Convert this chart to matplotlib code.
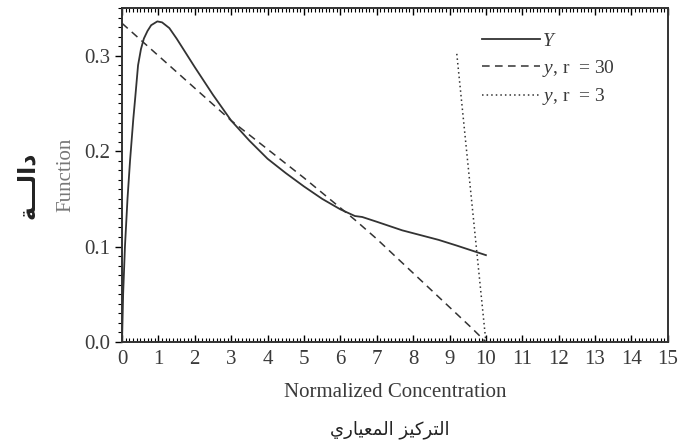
import numpy as np
import matplotlib
matplotlib.use('Agg')
import matplotlib.pyplot as plt
from matplotlib.ticker import MultipleLocator

# Datos
x_Y = [0, 0.03, 0.08, 0.15, 0.22, 0.31, 0.36, 0.44, 0.52, 0.6, 0.7, 0.8, 0.97,
       1.1, 1.3, 1.5, 1.75, 2.0, 2.5, 3.0, 3.5, 4.0, 4.5, 5.0, 5.5, 6.0, 6.4,
       6.6, 7.0, 7.7, 8.2, 8.7, 9.2, 9.6, 10.0]
Y = [0, 0.05, 0.10, 0.15, 0.19, 0.234, 0.255, 0.29, 0.307, 0.318, 0.326, 0.332,
     0.336, 0.335, 0.329, 0.318, 0.303, 0.288, 0.259, 0.232, 0.211, 0.192,
     0.177, 0.163, 0.150, 0.139, 0.132, 0.131, 0.126, 0.117, 0.112, 0.107,
     0.101, 0.096, 0.091]

x_r30 = [0, 3.0, 5.0, 6.4, 7.0, 9.6, 10.0]
y_r30 = [0.334, 0.232, 0.172, 0.128, 0.108, 0.015, 0.0]

x_r3 = [9.2, 10.0]
y_r3 = [0.302, 0.0]

x_ticks = list(range(0, 16))
y_ticks = [0.0, 0.1, 0.2, 0.3]

# Arabe ya con formas de presentacion, en orden visual
ar_xlabel = "\ufef1\ufead\ufe8e\ufef4\ufecc\ufee4\ufedf\ufe8d \ufeb0\ufef4\ufedb\ufeae\ufe98\ufedf\ufe8d"
ar_ylabel = "\ufe94\u0640\u0640\u0640\ufedf\ufe8d\ufea9"

plt.rcParams['font.family'] = ['Liberation Serif', 'DejaVu Sans']
plt.rcParams['mathtext.fontset'] = 'custom'
plt.rcParams['mathtext.rm'] = 'Liberation Serif'
plt.rcParams['mathtext.it'] = 'Liberation Serif:italic'

txt = '#3a3a3a'
fig = plt.figure(figsize=(6.78, 4.47), dpi=100)
ax = fig.add_axes([0.180, 0.235, 0.805, 0.747])

ax.plot(x_Y, Y, color='#333333', lw=1.3, label=r'$Y$')
ax.plot(x_r30, y_r30, color='#333333', lw=1.1, ls=(0, (5, 3.5)), label=r'$y$, r  = 30')
ax.plot(x_r3, y_r3, color='#333333', lw=1.1, ls=(0, (1, 2)), label=r'$y$, r  = 3')

ax.set_xlim(0, 15)
ax.set_ylim(0, 0.35)
ax.set_xticks(x_ticks)
ax.set_yticks(y_ticks)
ax.set_yticklabels([f'{v:.1f}' for v in y_ticks])
ax.xaxis.set_minor_locator(MultipleLocator(0.1))
ax.yaxis.set_minor_locator(MultipleLocator(0.01))

ax.tick_params(axis='x', which='both', direction='in', top=True, labelsize=15,
               labelcolor=txt, pad=6)
ax.tick_params(axis='y', which='both', direction='out', labelsize=15,
               labelcolor=txt)
ax.tick_params(which='major', length=5, width=1)
ax.tick_params(which='minor', length=3, width=0.8)
for s in ax.spines.values():
    s.set_linewidth(1.4)
    s.set_color('#333333')

ax.set_xlabel('Normalized Concentration', fontsize=15, color=txt, labelpad=10)
ax.set_ylabel('Function', fontsize=15, color='#777777', labelpad=6)

fig.text(0.575, 0.038, ar_xlabel, family=['DejaVu Sans'], fontsize=13,
         color='#222222', ha='center', va='center')
fig.text(0.04, 0.586, ar_ylabel, family=['DejaVu Sans'], fontsize=17,
         weight='bold', color='#222222', ha='center', va='center', rotation=90)

leg = ax.legend(loc='upper right', bbox_to_anchor=(0.935, 0.98), frameon=False,
                fontsize=14, handlelength=3.0, handletextpad=0.1, labelspacing=0.4)
for t in leg.get_texts():
    t.set_color(txt)

fig.savefig('out.png', dpi=100)
